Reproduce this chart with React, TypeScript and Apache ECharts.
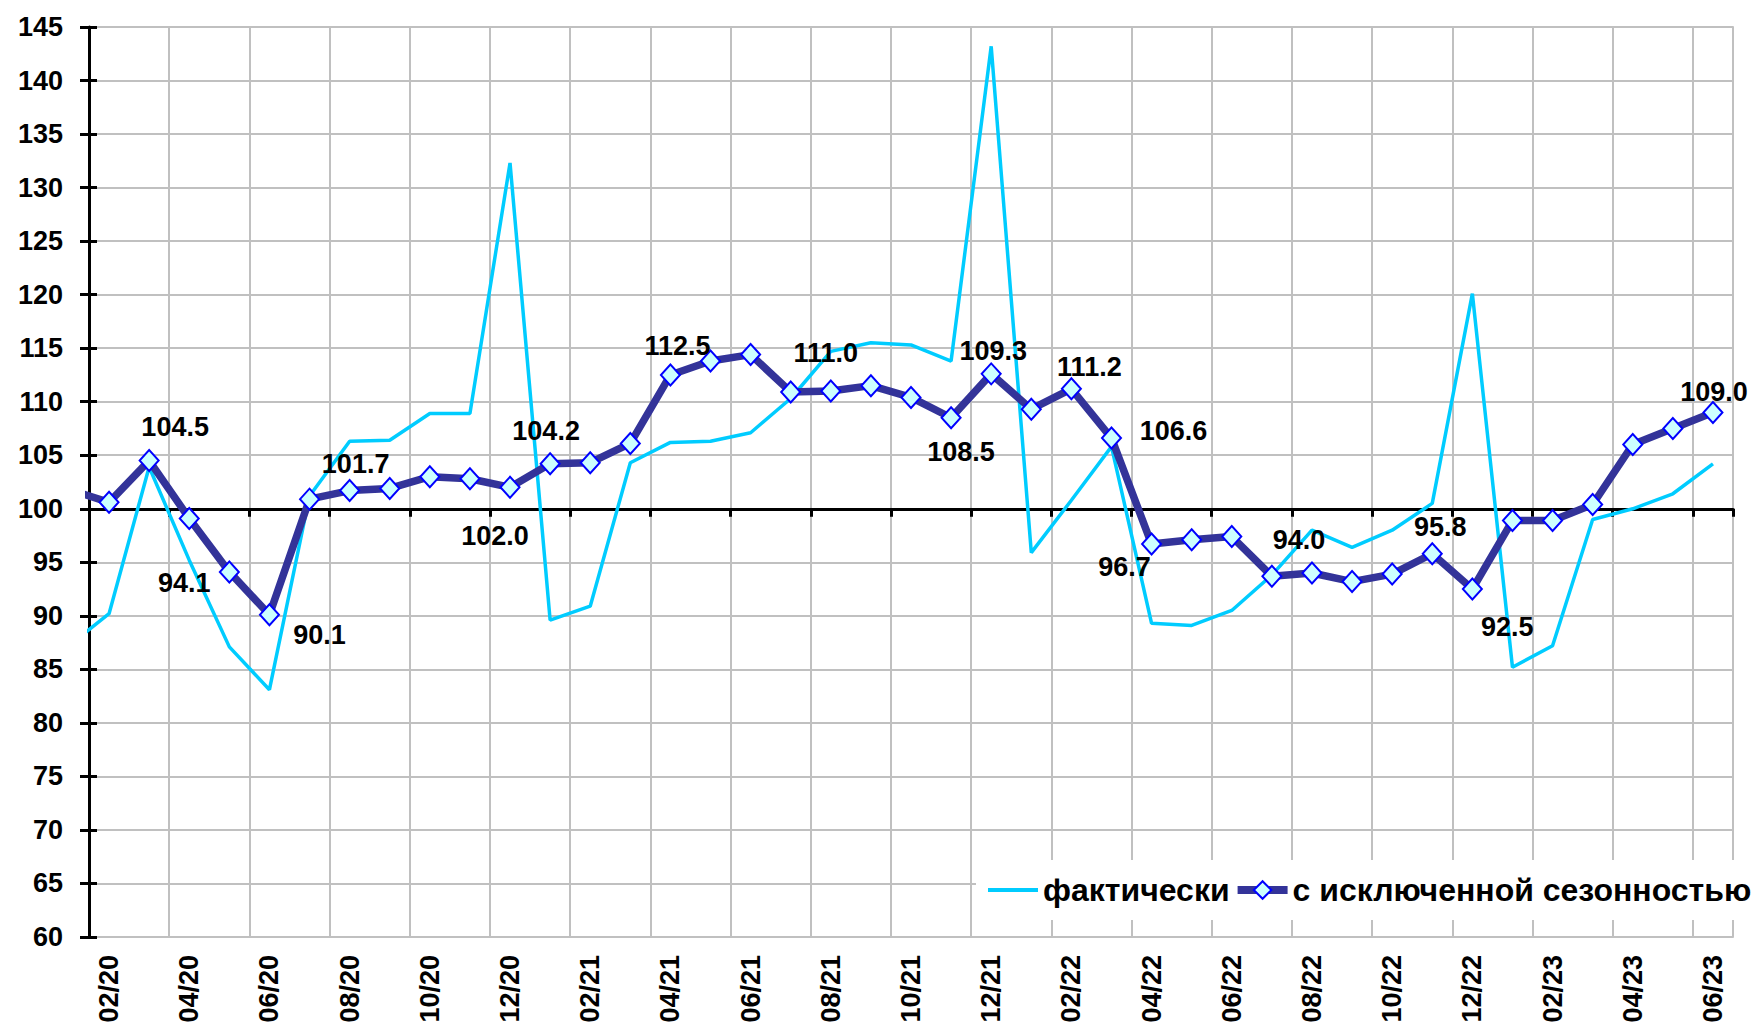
import React, { useEffect, useRef } from "react";
import * as echarts from "echarts";

// Months; the first (01/20) lies half a step left of the plot and is clipped
const months = [
  "01/20", "02/20", "03/20", "04/20", "05/20", "06/20", "07/20", "08/20", "09/20", "10/20", "11/20", "12/20",
  "01/21", "02/21", "03/21", "04/21", "05/21", "06/21", "07/21", "08/21", "09/21", "10/21", "11/21", "12/21",
  "01/22", "02/22", "03/22", "04/22", "05/22", "06/22", "07/22", "08/22", "09/22", "10/22", "11/22", "12/22",
  "01/23", "02/23", "03/23", "04/23", "05/23", "06/23",
];

const actual = [
  87.2, 90.2, 103.9, 95.2, 87.1, 83.1, 101.2, 106.3, 106.4, 108.9, 108.9, 132.3,
  89.6, 90.9, 104.3, 106.2, 106.3, 107.1, 110.3, 114.7, 115.5, 115.3, 113.8, 143.2,
  95.9, 100.8, 105.8, 89.3, 89.1, 90.5, 93.8, 98.0, 96.4, 98.0, 100.5, 120.1,
  85.2, 87.2, 99.0, 100.0, 101.4, 104.2,
];

const seasonallyAdjusted = [
  101.8, 100.6, 104.5, 99.1, 94.1, 90.1, 100.9, 101.7, 101.9, 103.0, 102.8, 102.0,
  104.2, 104.3, 106.1, 112.5, 113.8, 114.4, 110.9, 111.0, 111.5, 110.4, 108.5, 112.6,
  109.3, 111.2, 106.6, 96.7, 97.1, 97.4, 93.7, 94.0, 93.2, 93.9, 95.8, 92.5,
  98.9, 98.9, 100.4, 106.0, 107.5, 109.0,
];

const seriesNames = ["фактически", "с исключенной сезонностью"];

const yMin = 60;
const yMax = 145;
const yStep = 5;
const baseLine = 100;

// Which points carry a value label, and where the label sits (px offset from the point)
const labelledMonths = ["03/20", "05/20", "06/20", "08/20", "12/20", "01/21", "04/21", "08/21", "11/21",
  "01/22", "02/22", "03/22", "04/22", "08/22", "11/22", "12/22", "06/23"];
const labelOffsets: Record<string, [number, number]> = {
  "03/20": [26, -34], "05/20": [-45, 11], "06/20": [50, 20], "08/20": [6, -27], "12/20": [-15, 49],
  "01/21": [-4, -33], "04/21": [7, -29], "08/21": [-5, -38], "11/21": [10, 34], "01/22": [-38, -58],
  "02/22": [18, -22], "03/22": [62, -7], "04/22": [-27, 23], "08/22": [-13, -33], "11/22": [8, -27],
  "12/22": [35, 38], "06/23": [1, -20],
};

const FONT = "'Liberation Sans', Arial, Helvetica, sans-serif";
const LIGHT = "#00ccff";
const DARK = "#333399";

export default function App() {
  const ref = useRef<HTMLDivElement>(null);

  useEffect(() => {
    if (!ref.current) return;
    const chart = echarts.init(ref.current, null, { renderer: "svg" });

    const gridLeft = 89;
    const gridTop = 27;
    const gridWidth = 1644;
    const gridHeight = 910;
    const baseOffset = -((baseLine - yMin) / (yMax - yMin)) * gridHeight;

    const axisCats = months.slice(1);

    const actualData = actual.map((v, i) => [i, v]);
    const saData = seasonallyAdjusted.map((v, i) => {
      const m = months[i];
      if (labelledMonths.includes(m)) {
        return {
          value: [i, v],
          label: {
            show: true,
            position: "inside",
            offset: labelOffsets[m],
            formatter: () => v.toFixed(1),
          },
        };
      }
      return { value: [i, v] };
    });

    chart.setOption({
      animation: false,
      backgroundColor: "#ffffff",
      textStyle: { fontFamily: FONT },
      grid: { left: gridLeft, top: gridTop, width: gridWidth, height: gridHeight, containLabel: false },
      legend: {
        left: 976,
        top: 860,
        padding: [14, 4, 14, 10],
        backgroundColor: "#ffffff",
        itemGap: 4,
        itemWidth: 50,
        itemHeight: 22,
        data: [
          { name: seriesNames[0], itemStyle: { opacity: 0 }, lineStyle: { color: LIGHT, width: 4 } },
          { name: seriesNames[1], lineStyle: { color: DARK, width: 8 } },
        ],
        textStyle: { fontFamily: FONT, fontSize: 32, fontWeight: "bold", color: "#000" },
      },
      xAxis: [
        {
          type: "value",
          min: 0.5,
          max: months.length - 0.5,
          show: false,
          splitLine: { show: false },
        },
        {
          type: "category",
          data: axisCats,
          boundaryGap: true,
          position: "bottom",
          axisLine: { show: false },
          axisTick: { show: false, interval: 1 },
          axisLabel: {
            interval: 1,
            rotate: 90,
            margin: 18,
            fontFamily: FONT,
            fontSize: 27,
            fontWeight: "bold",
            color: "#000",
          },
          splitLine: { show: true, interval: 1, lineStyle: { color: "#c0c0c0", width: 2 } },
        },
        {
          type: "category",
          data: axisCats,
          boundaryGap: true,
          position: "bottom",
          offset: baseOffset,
          axisLine: { show: true, lineStyle: { color: "#000", width: 3 } },
          axisTick: { show: true, interval: 1, inside: false, length: 8, lineStyle: { color: "#000", width: 3 } },
          axisLabel: { show: false },
          splitLine: { show: false },
        },
      ],
      yAxis: [
        {
          type: "value",
          min: yMin,
          max: yMax,
          interval: yStep,
          position: "left",
          axisLine: { show: true, lineStyle: { color: "#000", width: 3 } },
          axisTick: { show: true, inside: false, length: 9, lineStyle: { color: "#000", width: 3 } },
          axisLabel: {
            margin: 26,
            fontFamily: FONT,
            fontSize: 27,
            fontWeight: "bold",
            color: "#000",
          },
          splitLine: { show: true, lineStyle: { color: "#c0c0c0", width: 2 } },
        },
        {
          type: "value",
          min: yMin,
          max: yMax,
          interval: yStep,
          position: "left",
          axisLine: { show: false },
          axisTick: { show: true, inside: true, length: 8, lineStyle: { color: "#000", width: 3 } },
          axisLabel: { show: false },
          splitLine: { show: false },
        },
        {
          type: "value",
          min: yMin,
          max: yMax,
          interval: yStep,
          position: "right",
          axisLine: { show: true, lineStyle: { color: "#c0c0c0", width: 2 } },
          axisTick: { show: false },
          axisLabel: { show: false },
          splitLine: { show: false },
        },
      ],
      series: [
        {
          name: seriesNames[0],
          type: "line",
          xAxisIndex: 0,
          yAxisIndex: 0,
          data: actualData,
          symbol: "none",
          clip: true,
          z: 3,
          lineStyle: { color: LIGHT, width: 3.5 },
          itemStyle: { color: LIGHT },
        },
        {
          name: seriesNames[1],
          type: "line",
          xAxisIndex: 0,
          yAxisIndex: 0,
          data: saData,
          clip: true,
          z: 4,
          symbol: "diamond",
          symbolSize: [19, 21],
          showAllSymbol: true,
          lineStyle: { color: DARK, width: 7.5 },
          itemStyle: { color: "#ccffff", borderColor: "#0000ff", borderWidth: 2 },
          label: {
            show: false,
            fontFamily: FONT,
            fontSize: 27,
            fontWeight: "bold",
            color: "#000",
          },
          emphasis: { disabled: true },
        },
      ],
    });

    return () => chart.dispose();
  }, []);

  return (
    <div
      ref={ref}
      style={{ position: "fixed", left: 0, top: 0, width: 1759, height: 1030, background: "#fff" }}
    />
  );
}
